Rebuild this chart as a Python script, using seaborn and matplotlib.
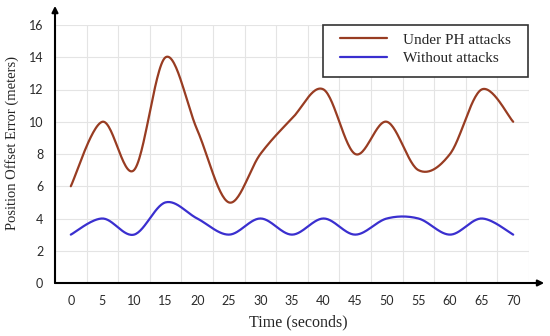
import numpy as np
import pandas as pd
import matplotlib
matplotlib.use("Agg")
import matplotlib.pyplot as plt
from matplotlib.patches import Rectangle
import seaborn as sns

time_s = [0, 5, 10, 15, 20, 25, 30, 35, 40, 45, 50, 55, 60, 65, 70]
under_ph = [6, 10, 7, 14, 9.5, 5, 8, 10.2, 12, 8, 10, 7, 8, 12, 10]
without = [3, 4, 3, 5, 4, 3, 4, 3, 4, 3, 4, 4, 3, 4, 3]
series_names = ["Under PH attacks", "Without attacks"]
x_ticks = list(range(0, 75, 5))
y_ticks = list(range(0, 18, 2))

RED = "#983C22"
BLUE = "#3A2FCF"


def smooth(xs, ys, n=30):
    # Excel-style smoothed line: cubic Bezier through the points
    xs = np.asarray(xs, float); ys = np.asarray(ys, float)
    px = np.concatenate([[xs[0]], xs, [xs[-1]]])
    py = np.concatenate([[ys[0]], ys, [ys[-1]]])
    ox, oy = [], []
    t = np.linspace(0, 1, n, endpoint=False)
    for i in range(1, len(px) - 2):
        p0 = np.array([px[i], py[i]]); p3 = np.array([px[i + 1], py[i + 1]])
        c1 = p0 + (np.array([px[i + 1], py[i + 1]]) - np.array([px[i - 1], py[i - 1]])) / 6
        c2 = p3 - (np.array([px[i + 2], py[i + 2]]) - np.array([px[i], py[i]])) / 6
        b = ((1 - t) ** 3)[:, None] * p0 + (3 * (1 - t) ** 2 * t)[:, None] * c1 \
            + (3 * (1 - t) * t ** 2)[:, None] * c2 + (t ** 3)[:, None] * p3
        ox.extend(b[:, 0]); oy.extend(b[:, 1])
    ox.append(xs[-1]); oy.append(ys[-1])
    return ox, oy


frames = []
for name, vals in zip(series_names, [under_ph, without]):
    sx, sy = smooth(time_s, vals)
    frames.append(pd.DataFrame({"Time": sx, "Value": sy, "Series": name}))
df = pd.concat(frames, ignore_index=True)

sns.set_style("white")
W, H = 550, 336
fig = plt.figure(figsize=(5.5, 3.36), dpi=100)
ax = fig.add_axes([55 / W, 1 - 283 / H, 474 / W, 258 / H])

sns.lineplot(data=df, x="Time", y="Value", hue="Series", sort=False,
             palette={series_names[0]: RED, series_names[1]: BLUE},
             linewidth=1.6, ax=ax, estimator=None)

ax.set_xlim(-2.5, 72.5)
ax.set_ylim(0, 16)
ax.set_xticks(x_ticks)
ax.set_yticks(y_ticks)
ax.set_xticks(np.arange(-2.5, 73, 5), minor=True)
ax.grid(True, which="minor", axis="x", color="#e4e4e4", linewidth=0.8)
ax.grid(True, which="major", axis="y", color="#e4e4e4", linewidth=0.8)
ax.grid(False, which="major", axis="x")
ax.set_axisbelow(True)
for s in ax.spines.values():
    s.set_visible(False)
ax.tick_params(axis="both", which="both", length=0)
ax.tick_params(axis="x", pad=8.5)
ax.tick_params(axis="y", pad=8.5)
for lab in ax.get_xticklabels() + ax.get_yticklabels():
    lab.set_family("Lato")
    lab.set_fontsize(9)
    lab.set_color("#2a2a2a")

ax.set_xlabel("Time (seconds)", family="Liberation Serif", fontsize=11.5)
ax.set_ylabel("Position Offset Error (meters)", family="Liberation Serif", fontsize=10.5)
ax.xaxis.set_label_coords((298 - 55) / 474, (283 - 314) / 258)
ax.yaxis.set_label_coords((19 - 55) / 474, (283 - 143) / 258)

# arrowed axes
ax.annotate("", xy=(1.032, 0), xytext=(0, 0), xycoords="axes fraction",
            arrowprops=dict(arrowstyle="-|>", color="black", lw=1.5, mutation_scale=9,
                            shrinkA=0, shrinkB=0), annotation_clip=False)
ax.annotate("", xy=(0, 1.074), xytext=(0, 0), xycoords="axes fraction",
            arrowprops=dict(arrowstyle="-|>", color="black", lw=1.5, mutation_scale=9,
                            shrinkA=0, shrinkB=0), annotation_clip=False)

leg = ax.legend(title=None, loc="upper left", bbox_to_anchor=(340 / W, 1 - 33 / H),
                bbox_transform=fig.transFigure,
                prop={"family": "Liberation Serif", "size": 11},
                frameon=False, handlelength=3.1, borderpad=0.0, labelspacing=0.33,
                handletextpad=1.0, borderaxespad=0.0)
for h in leg.get_lines():
    h.set_linewidth(1.6)
leg.set_zorder(6)

# legend frame box (opaque, above grid and lines)
box = Rectangle((323 / W, 1 - 77 / H), 205 / W, 52 / H,
                transform=fig.transFigure, fill=True, facecolor="white",
                edgecolor="#333333", linewidth=1.2, zorder=5, clip_on=False)
ax.add_artist(box)

fig.savefig("out.png", dpi=100)
